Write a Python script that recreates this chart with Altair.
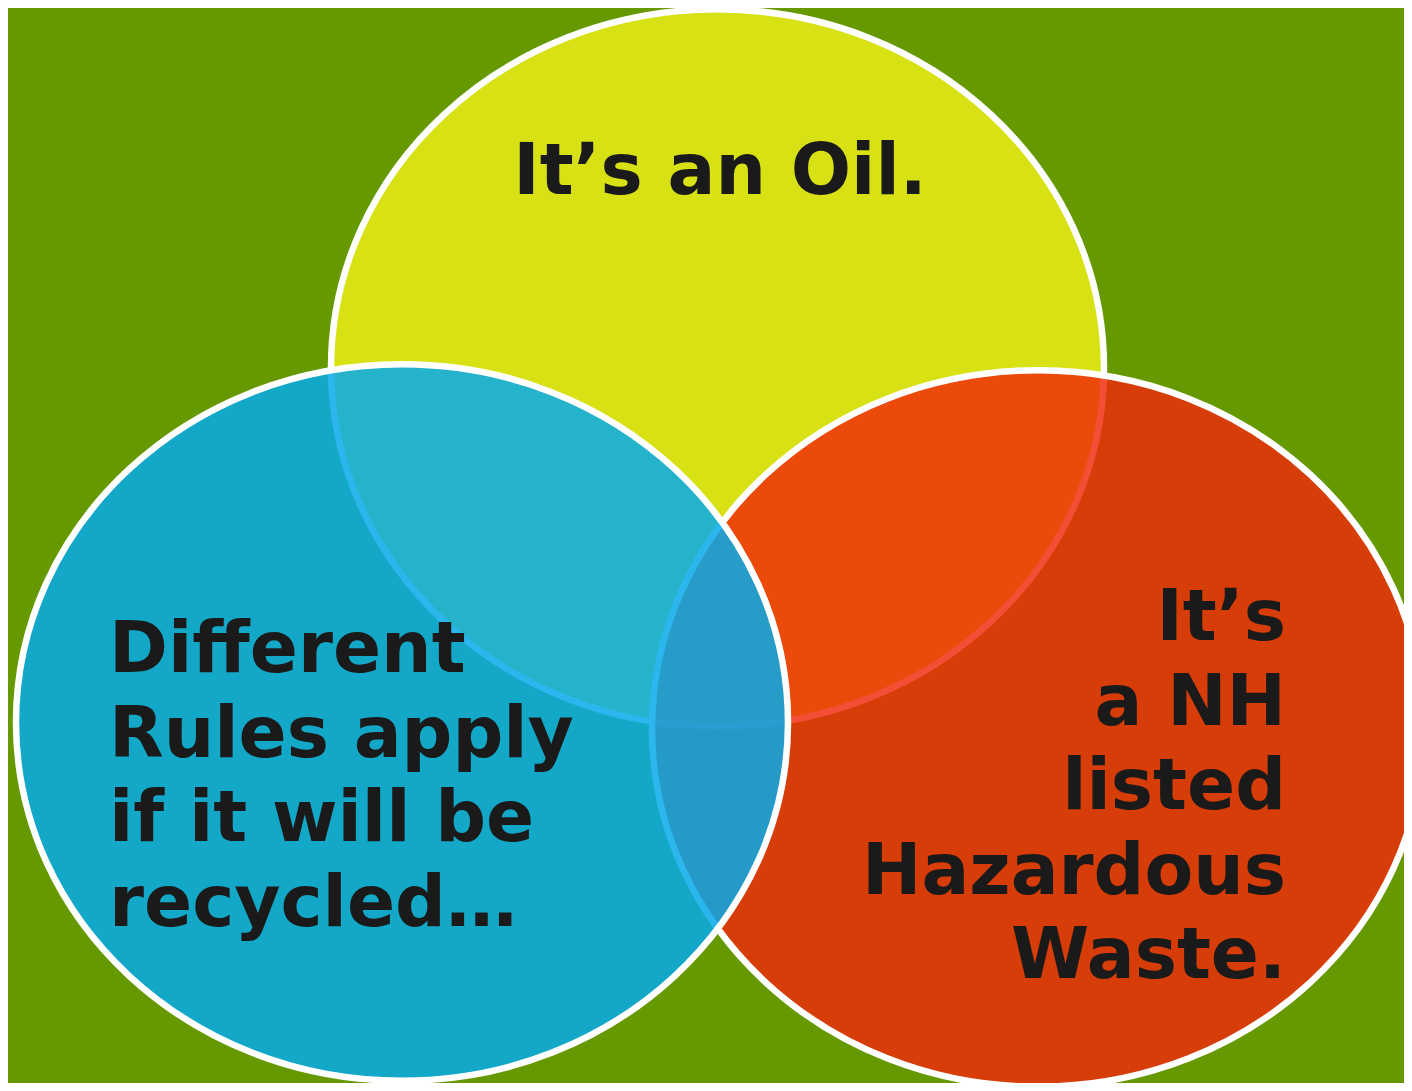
import altair as alt
import pandas as pd

# Circles of the Venn diagram (centre and radii in picture pixels)
sets = ["Oil", "Hazardous", "Recycled"]
cx = [717.5, 1038.0, 402.0]
cy = [368.0, 728.5, 722.5]
rx = [386.5, 386.0, 386.0]
fills = ["#e4e916", "#f0280a", "#06aaeb"]
alphas = [0.9, 0.82, 0.85]

# Labels
oil_lines = ["It\u2019s an Oil."]
recycled_lines = ["Different", "Rules apply", "if it will be", "recycled\u2026"]
hazard_lines = ["It\u2019s", "a NH", "listed", "Hazardous", "Waste."]

W, H = 1396, 1075
X0, Y0 = 8, 8
LINE_H = 84.5

E = 0.928
K = 0.5523
ellipse_path = (
    f"M1,0 C1,{K*E:.4f} {K},{E} 0,{E} "
    f"C{-K},{E} -1,{K*E:.4f} -1,0 "
    f"C-1,{-K*E:.4f} {-K},{-E} 0,{-E} "
    f"C{K},{-E} 1,{-K*E:.4f} 1,0 Z"
)

circ = pd.DataFrame({
    "set": sets, "cx": cx, "cy": cy,
    "size": [(2 * r) ** 2 for r in rx],
    "fill": fills, "alpha": alphas, "z": list(range(len(sets))),
})

rows = []
for i, t in enumerate(oil_lines):
    rows.append({"t": t, "x": 720.0, "y": 194.0 + i * LINE_H, "al": "center"})
for i, t in enumerate(recycled_lines):
    rows.append({"t": t, "x": 109.0, "y": 672.0 + i * LINE_H, "al": "left"})
for i, t in enumerate(hazard_lines):
    rows.append({"t": t, "x": 1286.0, "y": 640.0 + i * LINE_H, "al": "right"})
labels = pd.DataFrame(rows)

xs = alt.Scale(domain=[X0, X0 + W], range=[0, W], nice=False, zero=False)
ys = alt.Scale(domain=[Y0, Y0 + H], range=[0, H], nice=False, zero=False)

circles = alt.Chart(circ).mark_point(
    shape=ellipse_path, filled=True, opacity=1,
    stroke="white", strokeWidth=6.5, strokeOpacity=1,
).encode(
    x=alt.X("cx:Q", scale=xs, axis=None),
    y=alt.Y("cy:Q", scale=ys, axis=None),
    size=alt.Size("size:Q", scale=None, legend=None),
    fill=alt.Fill("fill:N", scale=None, legend=None),
    fillOpacity=alt.FillOpacity("alpha:Q", scale=None, legend=None),
    order=alt.Order("z:Q"),
)

def text_layer(align):
    return alt.Chart(labels[labels["al"] == align]).mark_text(
        align=align, baseline="alphabetic", font="DejaVu Sans",
        fontWeight="bold", fontSize=71, color="#1a1a1a",
    ).encode(
        x=alt.X("x:Q", scale=xs, axis=None),
        y=alt.Y("y:Q", scale=ys, axis=None),
        text="t:N",
    )

chart = alt.layer(
    circles, text_layer("center"), text_layer("left"), text_layer("right")
).properties(
    width=W, height=H, padding=0, autosize=alt.AutoSizeParams(type="none"),
    background="#669900",
).configure_view(stroke=None)

chart.save("out.html", embed_options={"renderer": "svg", "actions": False})
